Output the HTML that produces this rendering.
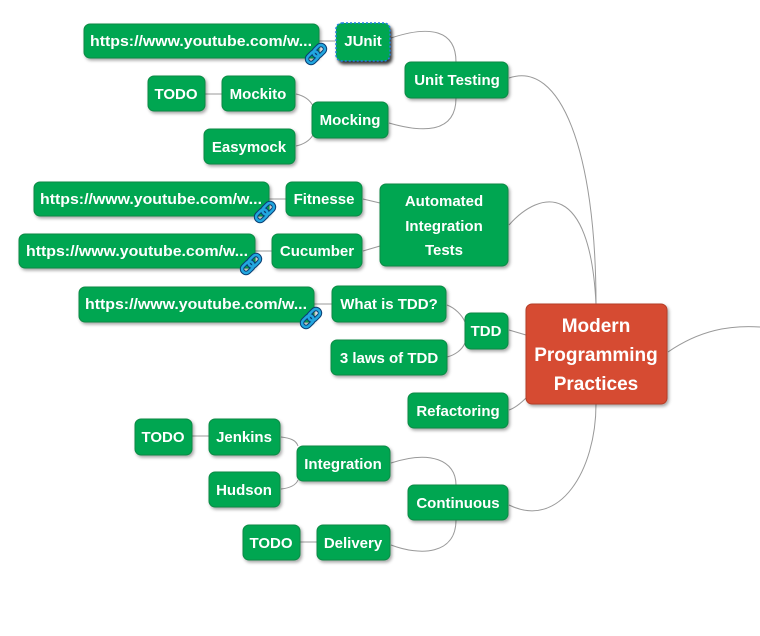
<!DOCTYPE html>
<html><head><meta charset="utf-8"><style>
html,body{margin:0;padding:0;background:#fff;}
svg{display:block}
text{font-family:"Liberation Sans",sans-serif;font-weight:bold;fill:#fff;}
</style></head><body>
<svg width="760" height="636" viewBox="0 0 760 636" xmlns="http://www.w3.org/2000/svg">
<defs>
<filter id="sh" x="-20%" y="-20%" width="140%" height="150%"><feDropShadow dx="1.5" dy="2" stdDeviation="1.5" flood-color="#000" flood-opacity="0.35"/></filter>
<g id="lnk"><g transform="rotate(-45)">
<rect x="-11" y="-4" width="13" height="8" rx="4" fill="none" stroke="#0a3f73" stroke-width="4.5"/>
<rect x="-2" y="-4" width="13" height="8" rx="4" fill="none" stroke="#0a3f73" stroke-width="4.5"/>
<rect x="-11" y="-4" width="13" height="8" rx="4" fill="none" stroke="#22a7e0" stroke-width="2.5"/>
<rect x="-2" y="-4" width="13" height="8" rx="4" fill="none" stroke="#22a7e0" stroke-width="2.5"/>
</g></g>
</defs>
<g fill="none" stroke="#999" stroke-width="1">
<path d="M509,78 C560,60 596,150 596,304"/>
<path d="M509,225 C540,190 590,180 596,304"/>
<path d="M509,330 L526,335"/>
<path d="M509,410 C515,408 522,402 526,398"/>
<path d="M509,505 C560,530 596,470 596,404"/>
<path d="M668,352 C700,330 730,325 760,327"/>
<path d="M391,38 C430,25 456,30 456,62"/>
<path d="M389,123 C420,132 456,135 456,98"/>
<path d="M319,41 L335,41"/>
<path d="M205,94 L222,94"/>
<path d="M296,94 C305,96 310,100 313,106"/>
<path d="M296,146 C305,144 310,140 313,135"/>
<path d="M269,199 L286,199"/>
<path d="M255,251 L272,251"/>
<path d="M363,199 L380,203"/>
<path d="M363,251 L380,246"/>
<path d="M314,304 L332,304"/>
<path d="M447,305 C455,308 462,315 465,322"/>
<path d="M447,357 C455,355 462,350 465,343"/>
<path d="M192,436 L209,436"/>
<path d="M281,437 C290,438 296,440 298,446"/>
<path d="M281,489 C290,488 296,485 298,480"/>
<path d="M391,463 C430,450 456,460 456,485"/>
<path d="M300,542 L317,542"/>
<path d="M391,545 C420,556 456,555 456,520"/>
</g>
<g filter="url(#sh)" fill="#00a651" stroke="#0b8a45" stroke-width="1">
<rect x="84" y="24" width="235" height="34" rx="6"/>
<rect x="405" y="62" width="103" height="36" rx="6"/>
<rect x="148" y="76" width="57" height="35" rx="6"/>
<rect x="222" y="76" width="73" height="35" rx="6"/>
<rect x="312" y="102" width="76" height="36" rx="6"/>
<rect x="204" y="129" width="91" height="35" rx="6"/>
<rect x="34" y="182" width="235" height="34" rx="6"/>
<rect x="286" y="182" width="76" height="34" rx="6"/>
<rect x="380" y="184" width="128" height="82" rx="6"/>
<rect x="19" y="234" width="236" height="34" rx="6"/>
<rect x="272" y="234" width="90" height="34" rx="6"/>
<rect x="79" y="287" width="235" height="35" rx="6"/>
<rect x="332" y="286" width="114" height="36" rx="6"/>
<rect x="465" y="313" width="43" height="36" rx="6"/>
<rect x="331" y="340" width="116" height="35" rx="6"/>
<rect x="408" y="393" width="100" height="35" rx="6"/>
<rect x="135" y="419" width="57" height="36" rx="6"/>
<rect x="209" y="419" width="71" height="36" rx="6"/>
<rect x="297" y="446" width="93" height="35" rx="6"/>
<rect x="209" y="472" width="71" height="35" rx="6"/>
<rect x="408" y="485" width="100" height="35" rx="6"/>
<rect x="243" y="525" width="57" height="35" rx="6"/>
<rect x="317" y="525" width="73" height="35" rx="6"/>
<rect x="526" y="304" width="141" height="100" rx="6" fill="#d64c33" stroke="#b53d28"/>
</g>
<rect x="336" y="23" width="54" height="38" rx="6" fill="#00a651" stroke="#1f7fe0" stroke-width="1.5" stroke-dasharray="2,2" style="filter:drop-shadow(2px 3px 1.5px rgba(0,0,0,0.8))"/>
<g font-size="15" text-anchor="middle">
<text x="201" y="46" textLength="222" lengthAdjust="spacingAndGlyphs">https://www.youtube.com/w...</text>
<text x="363" y="46">JUnit</text>
<text x="457" y="85">Unit Testing</text>
<text x="176" y="99">TODO</text>
<text x="258" y="99">Mockito</text>
<text x="350" y="125">Mocking</text>
<text x="249" y="152">Easymock</text>
<text x="151" y="204" textLength="222" lengthAdjust="spacingAndGlyphs">https://www.youtube.com/w...</text>
<text x="324" y="204">Fitnesse</text>
<text x="444" y="206">Automated</text>
<text x="444" y="231">Integration</text>
<text x="444" y="255">Tests</text>
<text x="137" y="256" textLength="222" lengthAdjust="spacingAndGlyphs">https://www.youtube.com/w...</text>
<text x="317" y="256">Cucumber</text>
<text x="196" y="309" textLength="222" lengthAdjust="spacingAndGlyphs">https://www.youtube.com/w...</text>
<text x="389" y="309">What is TDD?</text>
<text x="486" y="336">TDD</text>
<text x="389" y="363">3 laws of TDD</text>
<text x="458" y="416">Refactoring</text>
<text x="163" y="442">TODO</text>
<text x="244" y="442">Jenkins</text>
<text x="343" y="469">Integration</text>
<text x="244" y="495">Hudson</text>
<text x="458" y="508">Continuous</text>
<text x="271" y="548">TODO</text>
<text x="353" y="548">Delivery</text>
</g>
<g font-size="19" text-anchor="middle">
<text x="596" y="332">Modern</text>
<text x="596" y="361">Programming</text>
<text x="596" y="390">Practices</text>
</g>
<use href="#lnk" x="316" y="54"/>
<use href="#lnk" x="265" y="212"/>
<use href="#lnk" x="251" y="264"/>
<use href="#lnk" x="311" y="318"/>
</svg>
</body></html>
